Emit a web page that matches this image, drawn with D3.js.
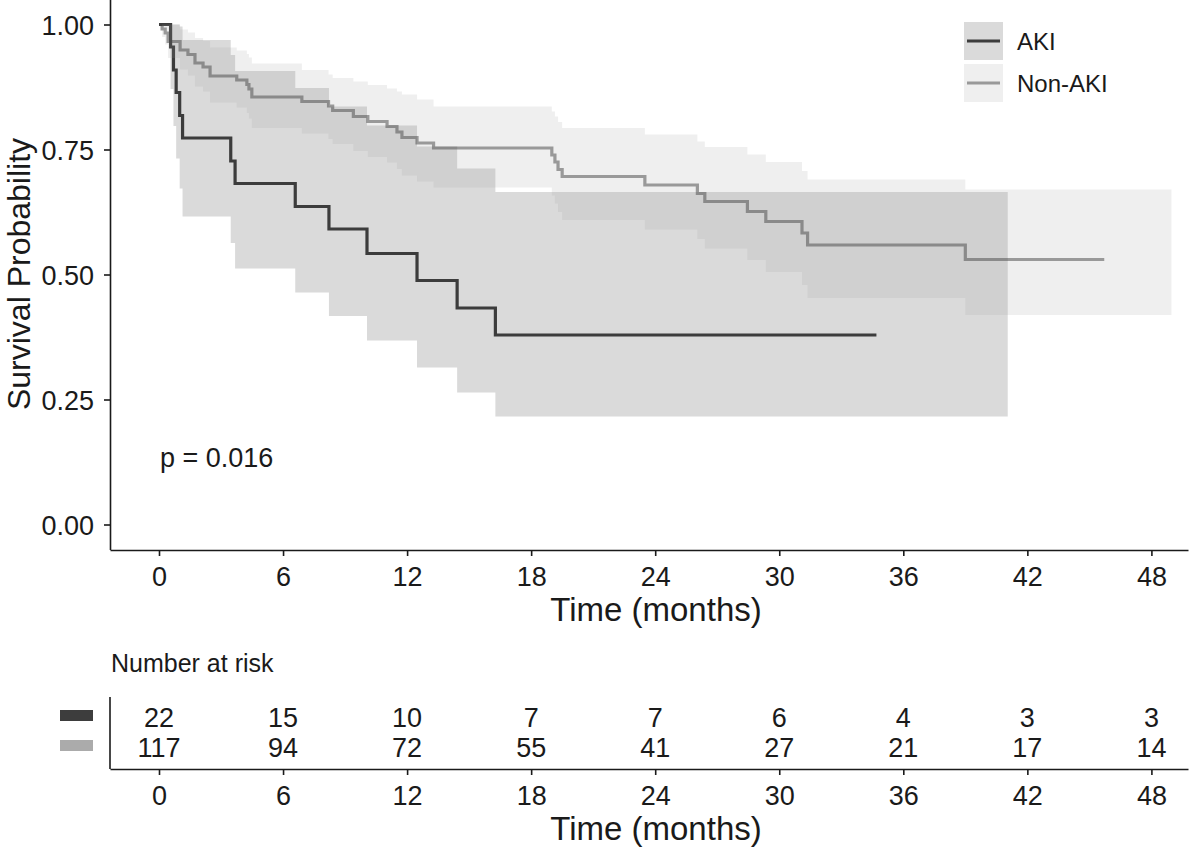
<!DOCTYPE html>
<html>
<head>
<meta charset="utf-8">
<script src="https://cdn.jsdelivr.net/npm/d3@7"></script>
<style>
  html, body { margin: 0; padding: 0; background: #fff; }
  svg { display: block; }
</style>
</head>
<body>
<svg id="chart" width="1200" height="849"></svg>
<script>
// ---------------- data ----------------
const groups = ["AKI", "Non-AKI"];
const monthTicks = [0, 6, 12, 18, 24, 30, 36, 42, 48];
const survTicks = [0, 0.25, 0.5, 0.75, 1.0];
const survTickLabels = ["0.00", "0.25", "0.50", "0.75", "1.00"];

// AKI Kaplan-Meier steps (time in months)
const akiTime  = [0, 0.56, 0.70, 0.83, 1.00, 1.14, 3.47, 3.68, 6.59, 8.22, 10.06, 12.48, 14.42, 16.27];
const akiSurv  = [1, 0.955, 0.909, 0.864, 0.818, 0.773, 0.727, 0.682, 0.636, 0.591, 0.542, 0.488, 0.433, 0.379];
const akiUpper = [1, 1, 1, 1, 0.996, 0.969, 0.939, 0.907, 0.873, 0.836, 0.798, 0.756, 0.712, 0.665];
const akiLower = [1, 0.871, 0.797, 0.732, 0.672, 0.616, 0.563, 0.512, 0.464, 0.417, 0.368, 0.314, 0.264, 0.216];
const akiLineEnd = 34.7;
const akiBandEnd = 41.05;

// Non-AKI Kaplan-Meier steps
const nonTime  = [0, 0.15, 0.30, 0.44, 1.02, 1.40, 1.74, 2.13, 2.47, 3.76, 4.25, 4.35, 4.49, 6.91, 8.20, 8.40, 9.40, 10.10, 11.03, 11.51, 11.75, 12.48, 13.28, 19.00, 19.15, 19.30, 19.50, 23.50, 26.04, 26.40, 28.46, 29.35, 31.10, 31.37, 39.00];
const nonSurv  = [1, 0.991, 0.983, 0.966, 0.949, 0.940, 0.923, 0.915, 0.897, 0.889, 0.880, 0.871, 0.855, 0.846, 0.837, 0.828, 0.816, 0.806, 0.796, 0.785, 0.774, 0.763, 0.753, 0.739, 0.725, 0.710, 0.696, 0.679, 0.662, 0.646, 0.626, 0.606, 0.583, 0.559, 0.530];
const nonUpper = [1, 1, 1, 1, 0.990, 0.984, 0.973, 0.967, 0.954, 0.948, 0.941, 0.934, 0.922, 0.909, 0.900, 0.893, 0.886, 0.879, 0.872, 0.866, 0.860, 0.850, 0.836, 0.826, 0.816, 0.805, 0.793, 0.780, 0.766, 0.755, 0.740, 0.725, 0.707, 0.690, 0.670];
const nonLower = [1, 0.975, 0.960, 0.933, 0.910, 0.898, 0.876, 0.866, 0.844, 0.834, 0.823, 0.812, 0.793, 0.782, 0.771, 0.761, 0.747, 0.735, 0.724, 0.711, 0.698, 0.686, 0.674, 0.658, 0.642, 0.625, 0.609, 0.590, 0.571, 0.552, 0.529, 0.505, 0.479, 0.453, 0.419];
const nonLineEnd = 45.72;
const nonBandEnd = 48.97;

// Number at risk
const riskAKI    = [22, 15, 10, 7, 7, 6, 4, 3, 3];
const riskNonAKI = [117, 94, 72, 55, 41, 27, 21, 17, 14];

const pText = "p = 0.016";

// ---------------- drawing ----------------
const FONT = "'Liberation Sans', Arial, Helvetica, sans-serif";
const TXT = "#1a1a1a";
const lineColor = { "AKI": "#3d3d3d", "Non-AKI": "#999999" };
const bandOpacity = { "AKI": 0.19, "Non-AKI": 0.16 };
const swatchColor = { "AKI": "#3d3d3d", "Non-AKI": "#ababab" };

const svg = d3.select("#chart").style("font-family", FONT);

const x = d3.scaleLinear().domain([-2.37, 49.77]).range([110, 1188]);
const y = d3.scaleLinear().domain([-0.05, 1.05]).range([549.5, -0.5]);

function stepPoints(time, vals, end) {
  const pts = time.map((t, i) => [t, vals[i]]);
  pts.push([end, vals[vals.length - 1]]);
  return pts;
}
function bandPoints(time, lo, hi, end) {
  const pts = time.map((t, i) => ({ t: t, lo: lo[i], hi: hi[i] }));
  pts.push({ t: end, lo: lo[lo.length - 1], hi: hi[hi.length - 1] });
  return pts;
}

const lineGen = d3.line().x(d => x(d[0])).y(d => y(d[1])).curve(d3.curveStepAfter);
const areaGen = d3.area().x(d => x(d.t)).y0(d => y(d.lo)).y1(d => y(d.hi)).curve(d3.curveStepAfter);

const series = [
  { name: "AKI", line: stepPoints(akiTime, akiSurv, akiLineEnd), band: bandPoints(akiTime, akiLower, akiUpper, akiBandEnd) },
  { name: "Non-AKI", line: stepPoints(nonTime, nonSurv, nonLineEnd), band: bandPoints(nonTime, nonLower, nonUpper, nonBandEnd) }
];

const plot = svg.append("g");

// curves first (ribbons are drawn on top with transparency)
[series[1], series[0]].forEach(s => {
  plot.append("path")
    .attr("d", lineGen(s.line))
    .attr("fill", "none")
    .attr("stroke", lineColor[s.name])
    .attr("stroke-width", 3.2);
});
series.forEach(s => {
  plot.append("path")
    .attr("d", areaGen(s.band))
    .attr("fill", lineColor[s.name])
    .attr("fill-opacity", bandOpacity[s.name])
    .attr("stroke", "none");
});

// axes
function styleAxis(g) {
  g.attr("font-family", FONT).attr("font-size", 27);
  g.selectAll("path.domain").attr("stroke", TXT).attr("stroke-width", 1.6);
  g.selectAll(".tick line").attr("stroke", TXT).attr("stroke-width", 1.6);
  g.selectAll(".tick text").attr("fill", TXT);
}

const xAxisG = svg.append("g").attr("transform", "translate(0,550)")
  .call(d3.axisBottom(x).tickValues(monthTicks).tickFormat(d3.format("d")).tickSize(6).tickSizeOuter(0));
styleAxis(xAxisG);
xAxisG.selectAll(".tick text").attr("y", 36).attr("dy", null);

const yAxisG = svg.append("g").attr("transform", "translate(110,0)")
  .call(d3.axisLeft(y).tickValues(survTicks).tickFormat((d, i) => survTickLabels[i]).tickSize(6).tickSizeOuter(0));
styleAxis(yAxisG);
yAxisG.selectAll(".tick text").attr("x", -16).attr("dy", "0.36em");

// axis titles
svg.append("text")
  .attr("x", 656).attr("y", 621)
  .attr("text-anchor", "middle").attr("font-size", 33).attr("fill", TXT)
  .text("Time (months)");
svg.append("text")
  .attr("transform", "translate(30,274) rotate(-90)")
  .attr("text-anchor", "middle").attr("font-size", 32).attr("fill", TXT)
  .text("Survival Probability");

// p-value
svg.append("text")
  .attr("x", 160).attr("y", 467)
  .attr("font-size", 27).attr("fill", TXT)
  .text(pText);

// legend
const legend = svg.append("g");
const legendRow = d3.scalePoint().domain(groups).range([41, 83]);
groups.forEach(name => {
  const cy = legendRow(name);
  legend.append("line")
    .attr("x1", 967).attr("x2", 1000).attr("y1", cy).attr("y2", cy)
    .attr("stroke", lineColor[name]).attr("stroke-width", 3.2);
  legend.append("rect")
    .attr("x", 964).attr("y", cy - 19).attr("width", 39).attr("height", 38)
    .attr("fill", lineColor[name]).attr("fill-opacity", bandOpacity[name]);
  legend.append("text")
    .attr("x", 1017).attr("y", cy + 8.7)
    .attr("font-size", 24).attr("fill", TXT)
    .text(name);
});

// ---------------- risk table ----------------
const risk = svg.append("g");
risk.append("text")
  .attr("x", 111).attr("y", 672)
  .attr("font-size", 25).attr("fill", TXT)
  .text("Number at risk");

const rowY = d3.scalePoint().domain(groups).range([717, 747]);
const riskData = { "AKI": riskAKI, "Non-AKI": riskNonAKI };

groups.forEach(name => {
  const cy = rowY(name);
  risk.append("rect")
    .attr("x", 60).attr("y", cy - 7).attr("width", 33).attr("height", 11)
    .attr("fill", swatchColor[name]);
  risk.selectAll(null)
    .data(riskData[name])
    .enter().append("text")
    .attr("x", (d, i) => x(monthTicks[i]))
    .attr("y", cy + 9.7)
    .attr("text-anchor", "middle")
    .attr("font-size", 27).attr("fill", TXT)
    .text(d => d);
});

const yRisk = d3.scalePoint().domain(groups).range([697, 769]);
risk.append("line")
  .attr("x1", 110).attr("x2", 110)
  .attr("y1", yRisk.range()[0]).attr("y2", yRisk.range()[1])
  .attr("stroke", TXT).attr("stroke-width", 1.6);

const xRiskG = svg.append("g").attr("transform", "translate(0,769)")
  .call(d3.axisBottom(x).tickValues(monthTicks).tickFormat(d3.format("d")).tickSize(6).tickSizeOuter(0));
styleAxis(xRiskG);
xRiskG.selectAll(".tick text").attr("y", 36).attr("dy", null);

svg.append("text")
  .attr("x", 656).attr("y", 840)
  .attr("text-anchor", "middle").attr("font-size", 33).attr("fill", TXT)
  .text("Time (months)");
</script>
</body>
</html>
